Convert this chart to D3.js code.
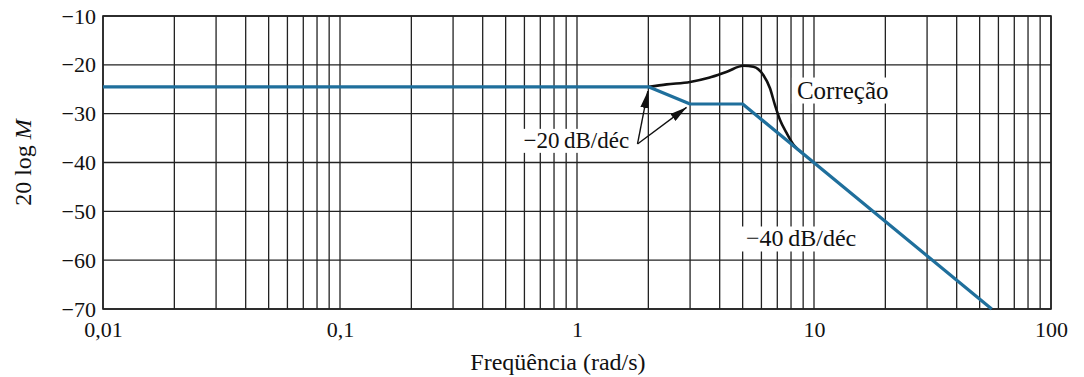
<!DOCTYPE html>
<html>
<head>
<meta charset="utf-8">
<script src="https://cdn.jsdelivr.net/npm/d3@7"></script>
<style>
  html, body { margin: 0; padding: 0; background: #fff; }
  svg { display: block; }
</style>
</head>
<body>
<svg id="chart" width="1084" height="377"></svg>
<script>
// Asymptotic magnitude (straight-line Bode approximation)
const asymptoteFreq = [0.01, 2, 3, 5, 56.2];
const asymptoteDb   = [-24.5, -24.5, -28.02, -28.02, -70];

// Corrected magnitude curve around the resonant peak
const correctionFreq = [2, 2.39, 3.0, 3.6, 4.29, 5.04, 5.55, 6.11, 6.52, 6.84, 7.19, 7.67, 8.18, 9.0];
const correctionDb   = [-24.5, -24.0, -23.5, -22.65, -21.4, -20.2, -20.4, -22.1, -24.8, -28.2, -31.3, -34.0, -36.3, -38.2];

// Axis ticks
const xTickValues = [0.01, 0.1, 1, 10, 100];
const xTickLabels = ["0,01", "0,1", "1", "10", "100"];
const yTickValues = [-10, -20, -30, -40, -50, -60, -70];
const yTickLabels = ["\u221210", "\u221220", "\u221230", "\u221240", "\u221250", "\u221260", "\u221270"];

const SERIF = "Liberation Serif";
const INK = "#111";

const svg = d3.select("#chart")
  .attr("font-family", SERIF);

const x = d3.scaleLog().domain([0.01, 100]).range([103, 1051]);
const y = d3.scaleLinear().domain([-70, -10]).range([309, 16]);

// Grid
const grid = svg.append("g").attr("stroke", "#222").attr("stroke-width", 1.3);
grid.selectAll("line.v").data(x.ticks()).join("line")
  .attr("x1", d => x(d)).attr("x2", d => x(d))
  .attr("y1", y(-10)).attr("y2", y(-70));
grid.selectAll("line.h").data(yTickValues).join("line")
  .attr("x1", x(0.01)).attr("x2", x(100))
  .attr("y1", d => y(d)).attr("y2", d => y(d));
svg.append("rect")
  .attr("x", x(0.01)).attr("y", y(-10))
  .attr("width", x(100) - x(0.01)).attr("height", y(-70) - y(-10))
  .attr("fill", "none").attr("stroke", "#222").attr("stroke-width", 1.6);

// Axis labels
const xAxis = d3.axisBottom(x).tickValues(xTickValues)
  .tickFormat((d, i) => xTickLabels[i]).tickSize(0).tickPadding(12);
svg.append("g").attr("transform", `translate(0,${y(-70)})`).call(xAxis)
  .attr("font-family", SERIF).attr("font-size", 22)
  .call(g => g.select(".domain").remove())
  .selectAll("text").attr("fill", INK);

const yAxis = d3.axisLeft(y).tickValues(yTickValues)
  .tickFormat((d, i) => yTickLabels[i]).tickSize(0).tickPadding(7);
svg.append("g").attr("transform", `translate(${x(0.01)},0)`).call(yAxis)
  .attr("font-family", SERIF).attr("font-size", 22)
  .call(g => g.select(".domain").remove())
  .selectAll("text").attr("fill", INK);

svg.append("text")
  .attr("x", 558).attr("y", 370)
  .attr("text-anchor", "middle").attr("font-size", 24).attr("fill", INK)
  .text("Freq\u00fc\u00eancia (rad/s)");

const yTitle = svg.append("text")
  .attr("transform", `translate(31,${(y(-10) + y(-70)) / 2}) rotate(-90)`)
  .attr("text-anchor", "middle").attr("font-size", 24).attr("fill", INK);
yTitle.append("tspan").text("20 log ");
yTitle.append("tspan").attr("font-style", "italic").text("M");

// Annotation labels with white backing boxes
const labels = [
  { text: "\u221220\u2009dB/d\u00e9c", f: 1.66, db: -37.0, anchor: "end", size: 23 },
  { text: "Corre\u00e7\u00e3o", f: 8.47, db: -26.9, anchor: "start", size: 25 },
  { text: "\u221240\u2009dB/d\u00e9c", f: 5.16, db: -57.2, anchor: "start", size: 24 }
];
const boxLayer = svg.append("g");
const lineLayer = svg.append("g");
const textLayer = svg.append("g");
labels.forEach(l => {
  const t = textLayer.append("text")
    .attr("x", x(l.f)).attr("y", y(l.db))
    .attr("text-anchor", l.anchor).attr("font-size", l.size).attr("fill", INK)
    .text(l.text);
  const b = t.node().getBBox();
  boxLayer.append("rect")
    .attr("x", b.x - 5).attr("y", b.y + 1)
    .attr("width", b.width + 10).attr("height", b.height - 1)
    .attr("fill", "#fff");
});

// Curves
lineLayer.append("path")
  .datum(d3.zip(correctionFreq, correctionDb))
  .attr("d", d3.line().x(d => x(d[0])).y(d => y(d[1])).curve(d3.curveMonotoneX))
  .attr("fill", "none").attr("stroke", INK).attr("stroke-width", 2.6);
lineLayer.append("path")
  .datum(d3.zip(asymptoteFreq, asymptoteDb))
  .attr("d", d3.line().x(d => x(d[0])).y(d => y(d[1])))
  .attr("fill", "none").attr("stroke", "#1f6f9c").attr("stroke-width", 3.2)
  .attr("stroke-linejoin", "round");

// Arrows pointing at the ends of the -20 dB/dec segment
svg.append("defs").append("marker")
  .attr("id", "head").attr("viewBox", "0 0 16 8")
  .attr("refX", 16).attr("refY", 4)
  .attr("markerWidth", 17).attr("markerHeight", 9)
  .attr("markerUnits", "userSpaceOnUse").attr("orient", "auto")
  .append("path").attr("d", "M0,0 L16,4 L0,8 Z").attr("fill", INK);

const arrowTail = [1.8, -36.2];
const arrowTips = [[1.99, -25.4], [2.9, -28.7]];
arrowTips.forEach(tip => {
  svg.append("line")
    .attr("x1", x(arrowTail[0])).attr("y1", y(arrowTail[1]))
    .attr("x2", x(tip[0])).attr("y2", y(tip[1]))
    .attr("stroke", INK).attr("stroke-width", 1.4)
    .attr("marker-end", "url(#head)");
});
</script>
</body>
</html>
